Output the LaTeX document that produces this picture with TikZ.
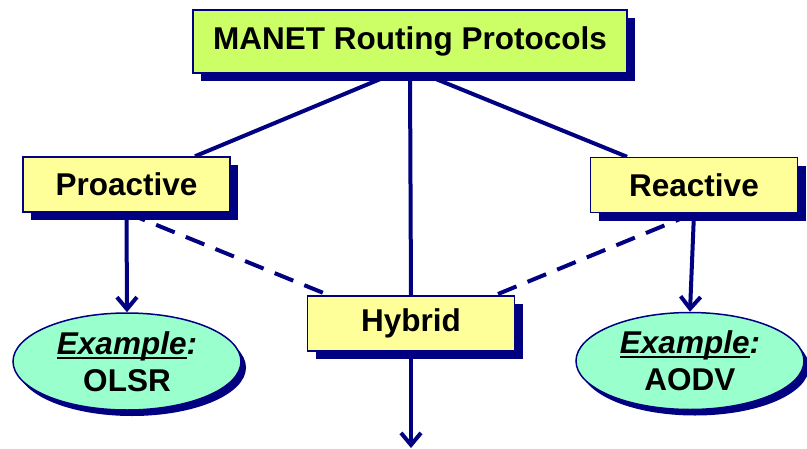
\documentclass[tikz,border=0pt]{standalone}
\usepackage{fontspec}
\setmainfont{Liberation Sans}
\usetikzlibrary{shapes.geometric,shadows,arrows.meta,calc,backgrounds}
\definecolor{navy}{RGB}{0,0,128}
\definecolor{limefill}{RGB}{204,255,102}
\definecolor{yellowfill}{RGB}{255,255,153}
\definecolor{mintfill}{RGB}{153,255,204}
% thick underline for the large labels
\newcommand{\thickul}[1]{\setbox0\hbox{#1}\rlap{\raisebox{-4.5pt}{\rule{\wd0}{2.2pt}}}\box0}
\tikzset{
  labelfont/.style={font=\fontsize{31.5}{37}\selectfont\bfseries},
  boxshadow/.style={drop shadow={shadow xshift=8pt,shadow yshift=-8pt,fill=navy,opacity=1}},
  classbox/.style={draw=navy,line width=1.5pt,fill=yellowfill,boxshadow,labelfont,
    minimum width=207pt,minimum height=55pt,inner sep=0pt},
  rootbox/.style={classbox,fill=limefill,minimum width=434pt,minimum height=63pt},
  examplebubble/.style={ellipse,draw=navy,line width=1.5pt,fill=mintfill,
    drop shadow={shadow xshift=5pt,shadow yshift=-6pt,fill=navy,opacity=1},
    labelfont,align=center,minimum width=228pt,minimum height=97pt,inner sep=0pt},
  link/.style={draw=navy,line width=4pt},
  weaklink/.style={link,dash pattern=on 20pt off 12pt},
  flow/.style={link,-{Straight Barb[length=12pt,width=20pt]}}
}
\begin{document}
\begin{tikzpicture}[x=1pt,y=-1pt]
\useasboundingbox (0,0) rectangle (807,448);

\node[rootbox]  (root)     at (410,41.5)  {MANET Routing Protocols};
\node[classbox] (proactive) at (126.5,184.5) {Proactive};
\node[classbox] (reactive)  at (694,185)   {Reactive};
\node[classbox] (hybrid)    at (411,323.5) {Hybrid};

\node[examplebubble] (olsr) at (127,361.5) {\itshape\thickul{Example}:\\ OLSR};
\node[examplebubble] (aodv) at (690,361)   {\itshape\thickul{Example}:\\ AODV};

\coordinate (hybridout) at (411,448);

\begin{scope}[on background layer]
  \draw[link] ($(root.south)+(-17,0)$) -- ($(proactive.north)+(68.5,0)$);
  \draw[link] ($(root.south)+(13,0)$) -- ($(reactive.north)+(-67,0)$);
  \draw[link] (root.south) -- (hybrid.north);
  \draw[weaklink] (proactive.south) -- ($(hybrid.north)+(-82,0)$);
  \draw[weaklink] (reactive.south) -- ($(hybrid.north)+(84,0)$);
\end{scope}

\draw[flow] (proactive.south) -- (olsr.north);
\draw[flow] (reactive.south) -- (aodv.north);
\draw[flow] (hybrid.south) -- (hybridout);
\end{tikzpicture}
\end{document}
